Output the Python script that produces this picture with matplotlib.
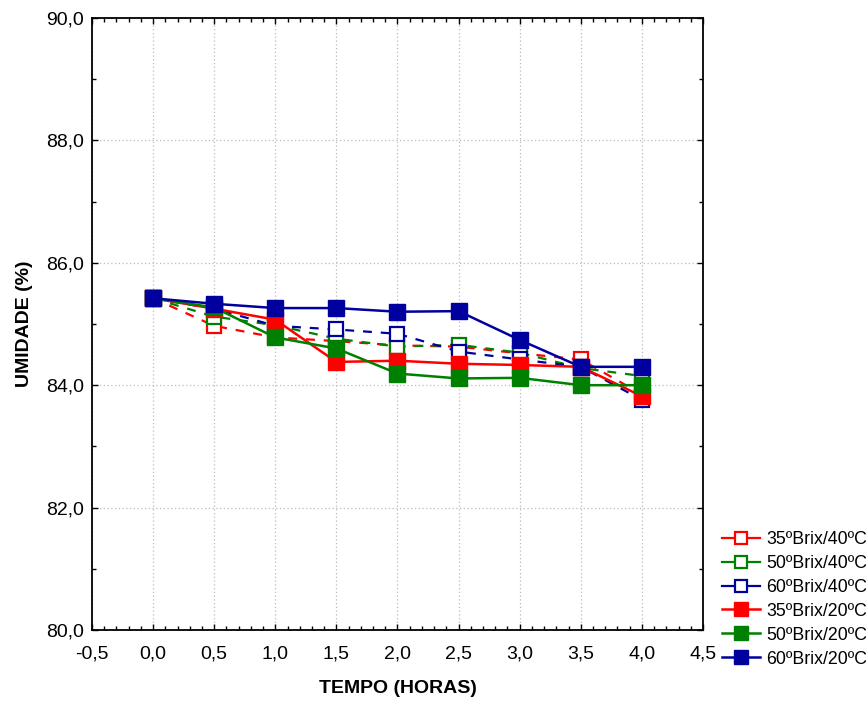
import matplotlib
matplotlib.use("Agg")
import matplotlib.pyplot as plt
from matplotlib.ticker import MultipleLocator, FuncFormatter

plt.rcParams['font.family'] = ['Liberation Sans', 'DejaVu Sans']

tempo = [0.0, 0.5, 1.0, 1.5, 2.0, 2.5, 3.0, 3.5, 4.0]

brix35_40 = [85.42, 84.97, 84.78, 84.72, 84.65, 84.63, 84.52, 84.42, 83.85]
brix50_40 = [85.42, 85.12, 84.98, 84.76, 84.63, 84.66, 84.53, 84.28, 84.15]
brix60_40 = [85.42, 85.25, 84.97, 84.91, 84.84, 84.55, 84.42, 84.30, 83.76]
brix35_20 = [85.42, 85.25, 85.07, 84.38, 84.40, 84.35, 84.33, 84.30, 83.82]
brix50_20 = [85.42, 85.27, 84.78, 84.60, 84.19, 84.11, 84.12, 84.00, 84.00]
brix60_20 = [85.42, 85.33, 85.26, 85.26, 85.20, 85.21, 84.74, 84.30, 84.30]

labels = ['35ºBrix/40ºC', '50ºBrix/40ºC', '60ºBrix/40ºC',
          '35ºBrix/20ºC', '50ºBrix/20ºC', '60ºBrix/20ºC']

RED, GREEN, BLUE = '#FF0000', '#008000', '#00009E'

fig = plt.figure(figsize=(8.67, 7.05), dpi=100)
ax = fig.add_axes([0.1061, 0.1064, 0.7047, 0.8681])

series_open = [(brix35_40, RED), (brix50_40, GREEN), (brix60_40, BLUE)]
series_fill = [(brix35_20, RED), (brix50_20, GREEN), (brix60_20, BLUE)]

handles = []
for (vals, c), lab in zip(series_open, labels[:3]):
    h, = ax.plot(tempo, vals, linestyle=(0, (4, 4)), color=c, lw=1.6,
                 marker='s', markersize=9.5, markerfacecolor='white',
                 markeredgecolor=c, markeredgewidth=1.6, label=lab, zorder=3)
    handles.append(h)
for (vals, c), lab in zip(series_fill, labels[3:]):
    h, = ax.plot(tempo, vals, linestyle='-', color=c, lw=1.8,
                 marker='s', markersize=11.5, markerfacecolor=c,
                 markeredgecolor=c, label=lab, zorder=4)
    handles.append(h)

ax.set_xlim(-0.5, 4.5)
ax.set_ylim(80, 90)
ax.xaxis.set_major_locator(MultipleLocator(0.5))
ax.xaxis.set_minor_locator(MultipleLocator(0.1))
ax.yaxis.set_major_locator(MultipleLocator(2))
ax.yaxis.set_minor_locator(MultipleLocator(1))
fmt = FuncFormatter(lambda v, p: f"{v:.1f}".replace('.', ','))
ax.xaxis.set_major_formatter(fmt)
ax.yaxis.set_major_formatter(fmt)

ax.tick_params(which='both', direction='in', top=True, right=True,
               labelsize=14, colors='black', width=1.0)
ax.tick_params(which='major', length=4)
ax.tick_params(axis='x', which='major', pad=11)
ax.tick_params(axis='y', which='major', pad=6)
ax.tick_params(which='minor', length=3)
for s in ax.spines.values():
    s.set_linewidth(1.3)

ax.grid(True, which='major', linestyle=(0, (1, 2)), color='#BBBBBB', lw=0.9)
ax.set_axisbelow(True)

ax.set_xlabel('TEMPO (HORAS)', fontsize=14, fontweight='bold', labelpad=13)
ax.set_ylabel('UMIDADE (%)', fontsize=14, fontweight='bold', labelpad=9)

leg = fig.legend(handles=handles, labels=labels, loc='lower left',
                 bbox_to_anchor=(0.825, 0.043), frameon=False,
                 fontsize=12.8, handlelength=2.1, handletextpad=0.35,
                 labelspacing=0.39, borderaxespad=0, markerscale=0.85)
for lh in leg.legend_handles:
    lh.set_linestyle('-')

fig.savefig('out.png', dpi=100)
